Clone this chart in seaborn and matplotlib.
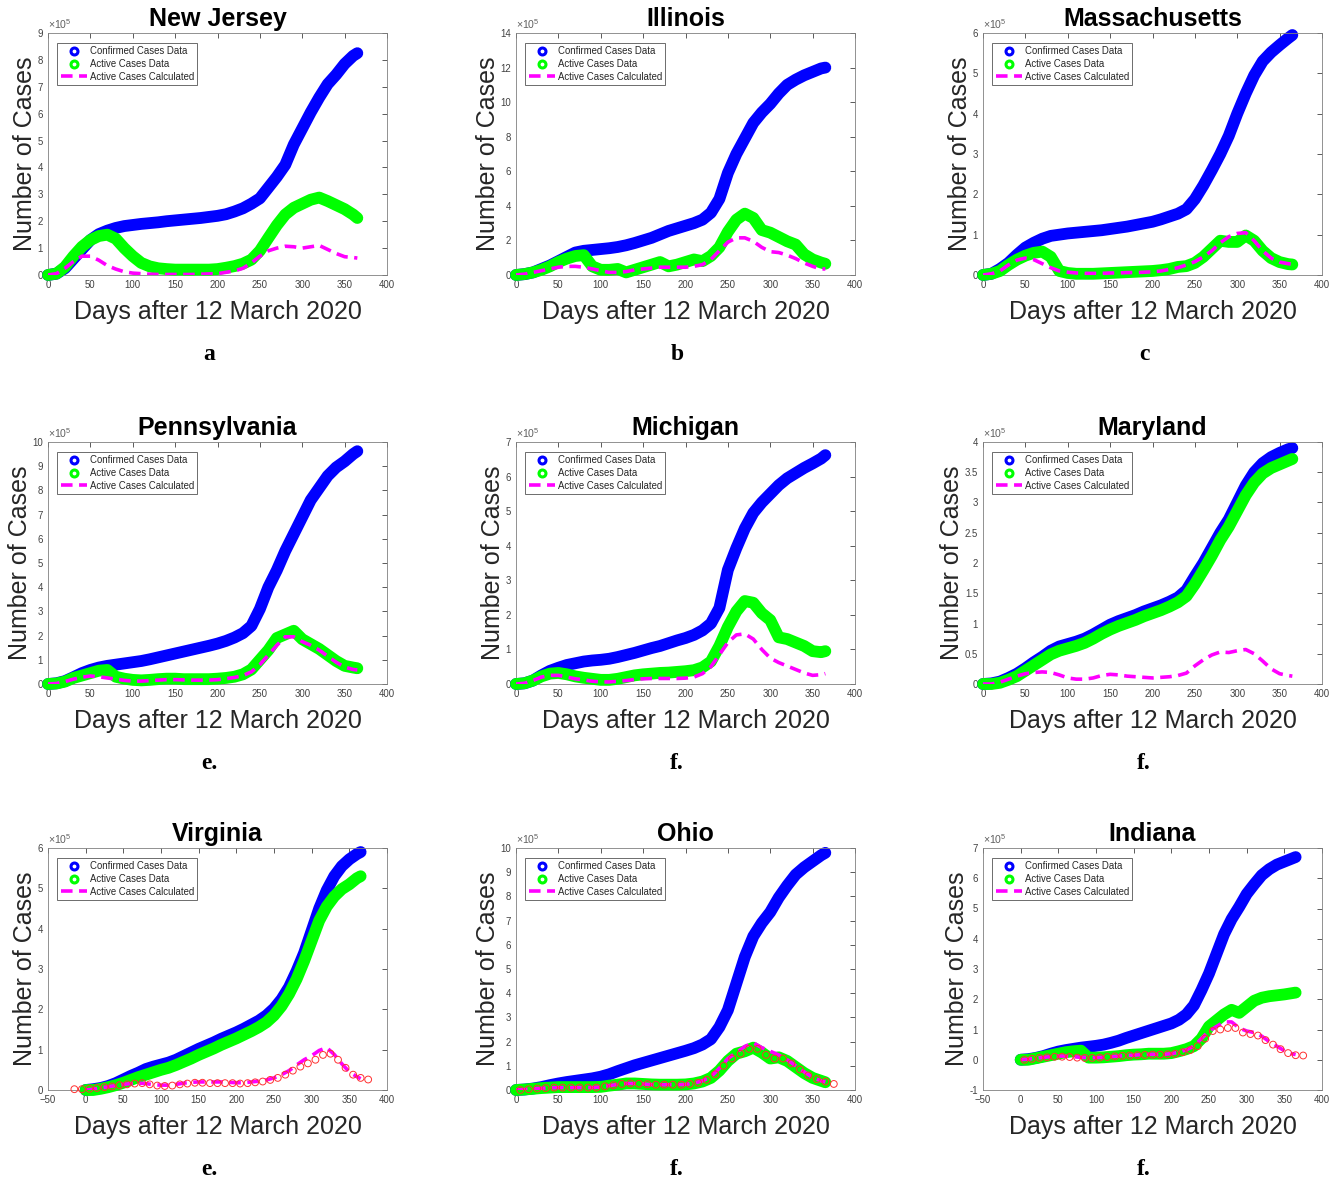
import matplotlib
matplotlib.use("Agg")
import matplotlib.pyplot as plt
from matplotlib.lines import Line2D
from matplotlib.ticker import FuncFormatter
import seaborn as sns

sns.set_theme(style="white")
plt.rcParams["font.family"] = ["Liberation Sans", "DejaVu Sans"]
plt.rcParams["mathtext.fontset"] = "custom"
plt.rcParams["mathtext.rm"] = "Liberation Sans"

# days after 12 March 2020 (values read roughly every 10 days), cases in units of 1e5
DAYS = [0, 10, 20, 30, 40, 50, 60, 70, 80, 90, 100, 110, 120, 130, 140, 150, 160, 170, 180,
        190, 200, 210, 220, 230, 240, 250, 260, 270, 280, 290, 300, 310, 320, 330, 340, 350,
        360, 365]
RED_DAYS_VA = [-15, -5, 5, 15, 25, 35, 45, 55, 65, 75, 85, 95, 105, 115, 125, 135, 145, 155,
               165, 175, 185, 195, 205, 215, 225, 235, 245, 255, 265, 275, 285, 295, 305, 315,
               325, 335, 345, 355, 365, 375]
RED_DAYS = [5, 15, 25, 35, 45, 55, 65, 75, 85, 95, 105, 115, 125, 135, 145, 155, 165, 175,
            185, 195, 205, 215, 225, 235, 245, 255, 265, 275, 285, 295, 305, 315, 325, 335,
            345, 355, 365, 375]

NJ_CONF = [0, 0.05, 0.25, 0.6, 0.95, 1.3, 1.52, 1.65, 1.75, 1.82, 1.86, 1.9, 1.93, 1.96, 2.0, 2.03, 2.06, 2.09, 2.12, 2.16, 2.2, 2.26, 2.36, 2.48, 2.65, 2.85, 3.25, 3.65, 4.1, 4.85, 5.45, 6.05, 6.6, 7.1, 7.45, 7.85, 8.15, 8.25]
NJ_ACT = [0, 0.05, 0.3, 0.7, 1.05, 1.3, 1.45, 1.5, 1.35, 1.0, 0.7, 0.45, 0.32, 0.25, 0.22, 0.2, 0.2, 0.2, 0.2, 0.2, 0.22, 0.27, 0.33, 0.42, 0.57, 0.9, 1.38, 1.85, 2.25, 2.5, 2.65, 2.8, 2.88, 2.75, 2.6, 2.45, 2.25, 2.12]
NJ_CALC = [0, 0.05, 0.25, 0.5, 0.7, 0.7, 0.55, 0.35, 0.22, 0.12, 0.07, 0.05, 0.03, 0.02, 0.02, 0.02, 0.02, 0.02, 0.03, 0.04, 0.05, 0.1, 0.15, 0.25, 0.45, 0.7, 0.9, 1.0, 1.07, 1.05, 1.0, 1.05, 1.1, 0.95, 0.8, 0.68, 0.65, 0.63]

IL_CONF = [0, 0.05, 0.15, 0.35, 0.55, 0.8, 1.05, 1.3, 1.4, 1.45, 1.5, 1.55, 1.62, 1.72, 1.85, 2.0, 2.15, 2.35, 2.55, 2.7, 2.85, 3.0, 3.2, 3.6, 4.4, 5.9, 7.0, 7.9, 8.8, 9.4, 9.9, 10.5, 11.0, 11.3, 11.55, 11.75, 11.95, 12.0]
IL_ACT = [0, 0.05, 0.15, 0.3, 0.5, 0.75, 0.95, 1.1, 1.15, 0.5, 0.3, 0.3, 0.35, 0.15, 0.3, 0.45, 0.6, 0.75, 0.5, 0.6, 0.75, 0.9, 0.8, 1.1, 1.6, 2.5, 3.2, 3.55, 3.3, 2.6, 2.45, 2.2, 1.95, 1.76, 1.2, 0.9, 0.72, 0.65]
IL_CALC = [0, 0.05, 0.15, 0.25, 0.35, 0.45, 0.5, 0.5, 0.45, 0.35, 0.25, 0.15, 0.15, 0.2, 0.3, 0.35, 0.4, 0.45, 0.45, 0.45, 0.45, 0.5, 0.6, 0.9, 1.4, 1.9, 2.15, 2.15, 1.95, 1.6, 1.35, 1.3, 1.15, 0.95, 0.7, 0.5, 0.35, 0.35]

MA_CONF = [0, 0.03, 0.15, 0.3, 0.5, 0.68, 0.8, 0.9, 0.97, 1.0, 1.03, 1.05, 1.07, 1.09, 1.11, 1.14, 1.17, 1.2, 1.24, 1.28, 1.32, 1.38, 1.45, 1.52, 1.63, 1.88, 2.22, 2.6, 3.0, 3.45, 4.0, 4.5, 4.95, 5.3, 5.52, 5.7, 5.87, 5.95]
MA_ACT = [0, 0.03, 0.1, 0.25, 0.38, 0.48, 0.55, 0.58, 0.45, 0.1, 0.05, 0.03, 0.03, 0.03, 0.04, 0.05, 0.06, 0.07, 0.08, 0.09, 0.1, 0.12, 0.15, 0.2, 0.22, 0.3, 0.45, 0.65, 0.85, 0.82, 0.82, 0.98, 0.85, 0.6, 0.42, 0.32, 0.27, 0.26]
MA_CALC = [0, 0.03, 0.1, 0.25, 0.37, 0.42, 0.38, 0.28, 0.18, 0.1, 0.07, 0.05, 0.04, 0.04, 0.04, 0.05, 0.05, 0.06, 0.06, 0.07, 0.08, 0.1, 0.14, 0.18, 0.25, 0.33, 0.45, 0.6, 0.8, 0.95, 1.03, 1.05, 0.85, 0.6, 0.42, 0.32, 0.28, 0.27]

PA_CONF = [0, 0.03, 0.12, 0.28, 0.45, 0.58, 0.68, 0.75, 0.8, 0.85, 0.9, 0.95, 1.02, 1.1, 1.18, 1.26, 1.34, 1.42, 1.5, 1.58, 1.67, 1.78, 1.92, 2.1, 2.4, 3.1, 4.0, 4.7, 5.5, 6.2, 6.9, 7.6, 8.1, 8.6, 8.95, 9.2, 9.5, 9.62]
PA_ACT = [0, 0.02, 0.1, 0.25, 0.35, 0.45, 0.55, 0.58, 0.3, 0.22, 0.17, 0.15, 0.17, 0.2, 0.22, 0.22, 0.2, 0.2, 0.2, 0.2, 0.22, 0.25, 0.3, 0.4, 0.6, 1.0, 1.4, 1.9, 2.05, 2.2, 1.85, 1.65, 1.45, 1.2, 0.95, 0.75, 0.68, 0.65]
PA_CALC = [0, 0.02, 0.1, 0.2, 0.28, 0.33, 0.3, 0.25, 0.2, 0.15, 0.12, 0.12, 0.14, 0.16, 0.18, 0.18, 0.17, 0.16, 0.16, 0.16, 0.18, 0.22, 0.27, 0.35, 0.5, 0.8, 1.2, 1.6, 1.95, 1.95, 1.75, 1.6, 1.4, 1.15, 0.9, 0.7, 0.6, 0.58]

MI_CONF = [0, 0.02, 0.1, 0.25, 0.38, 0.47, 0.55, 0.6, 0.65, 0.68, 0.7, 0.73, 0.78, 0.84, 0.9, 0.97, 1.04, 1.1, 1.18, 1.26, 1.33, 1.42, 1.55, 1.75, 2.2, 3.3, 3.93, 4.5, 4.95, 5.25, 5.5, 5.75, 5.95, 6.1, 6.25, 6.38, 6.52, 6.62]
MI_ACT = [0, 0.02, 0.1, 0.22, 0.3, 0.32, 0.28, 0.22, 0.18, 0.15, 0.12, 0.12, 0.15, 0.2, 0.25, 0.28, 0.3, 0.32, 0.33, 0.35, 0.37, 0.4, 0.48, 0.65, 1.1, 1.65, 2.1, 2.4, 2.35, 2.05, 1.85, 1.35, 1.3, 1.2, 1.1, 0.95, 0.92, 0.95]
MI_CALC = [0, 0.02, 0.1, 0.2, 0.25, 0.25, 0.2, 0.15, 0.12, 0.08, 0.06, 0.06, 0.08, 0.1, 0.13, 0.15, 0.16, 0.16, 0.16, 0.16, 0.17, 0.2, 0.3, 0.5, 0.85, 1.2, 1.42, 1.45, 1.3, 1.0, 0.75, 0.62, 0.52, 0.42, 0.32, 0.25, 0.27, 0.3]

MD_CONF = [0, 0.01, 0.04, 0.1, 0.17, 0.26, 0.36, 0.45, 0.55, 0.62, 0.66, 0.7, 0.75, 0.82, 0.9, 0.98, 1.04, 1.09, 1.14, 1.2, 1.25, 1.3, 1.36, 1.43, 1.55, 1.78, 2.0, 2.25, 2.5, 2.72, 3.0, 3.28, 3.5, 3.65, 3.75, 3.82, 3.88, 3.9]
MD_ACT = [0, 0.0, 0.02, 0.07, 0.13, 0.22, 0.31, 0.4, 0.49, 0.55, 0.59, 0.63, 0.68, 0.75, 0.83, 0.9, 0.96, 1.01, 1.06, 1.12, 1.17, 1.22, 1.28, 1.35, 1.45, 1.65, 1.88, 2.12, 2.38, 2.6, 2.86, 3.12, 3.33, 3.48, 3.57, 3.63, 3.69, 3.72]
MD_CALC = [0, 0.0, 0.03, 0.08, 0.13, 0.17, 0.19, 0.2, 0.19, 0.15, 0.1, 0.08, 0.08, 0.1, 0.14, 0.16, 0.15, 0.13, 0.12, 0.11, 0.1, 0.11, 0.12, 0.14, 0.18, 0.3, 0.4, 0.48, 0.53, 0.52, 0.55, 0.57, 0.5, 0.38, 0.25, 0.17, 0.14, 0.13]

VA_CONF = [0, 0.02, 0.05, 0.1, 0.17, 0.26, 0.35, 0.43, 0.52, 0.58, 0.63, 0.68, 0.75, 0.84, 0.93, 1.02, 1.1, 1.18, 1.27, 1.35, 1.43, 1.52, 1.62, 1.72, 1.85, 2.02, 2.25, 2.55, 2.95, 3.4, 3.95, 4.5, 4.95, 5.3, 5.55, 5.72, 5.85, 5.9]
VA_ACT = [0, 0.0, 0.03, 0.07, 0.12, 0.18, 0.25, 0.32, 0.38, 0.44, 0.5, 0.55, 0.62, 0.7, 0.78, 0.87, 0.95, 1.03, 1.12, 1.2, 1.28, 1.37, 1.46, 1.56, 1.68, 1.85, 2.08, 2.38, 2.75, 3.2, 3.7, 4.2, 4.55, 4.8, 4.98, 5.1, 5.25, 5.3]
VA_CALC = [0, 0.02, 0.05, 0.08, 0.11, 0.14, 0.16, 0.17, 0.16, 0.13, 0.12, 0.12, 0.14, 0.17, 0.19, 0.2, 0.2, 0.2, 0.2, 0.19, 0.18, 0.18, 0.2, 0.22, 0.25, 0.3, 0.38, 0.48, 0.62, 0.75, 0.85, 0.98, 1.05, 0.88, 0.65, 0.45, 0.33, 0.28]
VA_RED = [0.02, 0.02, 0.03, 0.05, 0.07, 0.09, 0.12, 0.14, 0.16, 0.17, 0.14, 0.11, 0.1, 0.11, 0.14, 0.16, 0.18, 0.18, 0.17, 0.17, 0.17, 0.17, 0.16, 0.17, 0.19, 0.21, 0.25, 0.3, 0.38, 0.48, 0.58, 0.66, 0.75, 0.87, 0.9, 0.75, 0.55, 0.38, 0.3, 0.26]

OH_CONF = [0, 0.02, 0.06, 0.12, 0.2, 0.27, 0.33, 0.38, 0.43, 0.48, 0.55, 0.65, 0.78, 0.9, 1.02, 1.12, 1.22, 1.32, 1.42, 1.52, 1.62, 1.73, 1.88, 2.1, 2.6, 3.3, 4.4, 5.5, 6.35, 6.9, 7.35, 7.95, 8.45, 8.9, 9.2, 9.45, 9.7, 9.8]
OH_ACT = [0, 0.02, 0.05, 0.08, 0.1, 0.12, 0.12, 0.12, 0.12, 0.12, 0.13, 0.18, 0.22, 0.27, 0.27, 0.25, 0.23, 0.22, 0.22, 0.22, 0.23, 0.27, 0.35, 0.5, 0.8, 1.2, 1.5, 1.6, 1.75, 1.55, 1.3, 1.35, 1.2, 0.95, 0.7, 0.5, 0.38, 0.32]
OH_CALC = [0, 0.02, 0.05, 0.07, 0.09, 0.1, 0.1, 0.1, 0.1, 0.1, 0.12, 0.18, 0.23, 0.27, 0.27, 0.25, 0.22, 0.22, 0.22, 0.22, 0.23, 0.28, 0.38, 0.55, 0.9, 1.3, 1.55, 1.8, 1.95, 1.75, 1.6, 1.45, 1.25, 1.0, 0.75, 0.52, 0.38, 0.33]
OH_RED = [0.0, 0.03, 0.06, 0.08, 0.1, 0.1, 0.1, 0.1, 0.1, 0.1, 0.15, 0.2, 0.25, 0.27, 0.26, 0.24, 0.22, 0.22, 0.22, 0.22, 0.25, 0.3, 0.42, 0.65, 1.0, 1.3, 1.5, 1.7, 1.7, 1.45, 1.3, 1.3, 1.1, 0.85, 0.6, 0.45, 0.35, 0.25]

IN_CONF = [0, 0.02, 0.06, 0.12, 0.2, 0.27, 0.32, 0.36, 0.4, 0.43, 0.46, 0.5, 0.56, 0.63, 0.72, 0.8, 0.88, 0.96, 1.04, 1.12, 1.2, 1.32, 1.5, 1.8, 2.3, 2.85, 3.5, 4.15, 4.65, 5.05, 5.48, 5.8, 6.1, 6.3, 6.45, 6.55, 6.65, 6.7]
IN_ACT = [0, 0.0, 0.05, 0.1, 0.15, 0.2, 0.25, 0.28, 0.3, 0.07, 0.07, 0.08, 0.1, 0.12, 0.15, 0.17, 0.18, 0.2, 0.2, 0.2, 0.22, 0.28, 0.35, 0.45, 0.7, 1.1, 1.3, 1.5, 1.65, 1.55, 1.75, 1.95, 2.05, 2.1, 2.13, 2.16, 2.2, 2.22]
IN_CALC = [0, 0.02, 0.05, 0.08, 0.1, 0.12, 0.12, 0.1, 0.08, 0.07, 0.07, 0.08, 0.1, 0.12, 0.14, 0.15, 0.17, 0.18, 0.18, 0.18, 0.2, 0.25, 0.33, 0.45, 0.7, 0.95, 1.1, 1.25, 1.25, 1.05, 0.95, 0.9, 0.78, 0.6, 0.45, 0.3, 0.2, 0.17]
IN_RED = [0.0, 0.03, 0.06, 0.08, 0.1, 0.1, 0.09, 0.07, 0.06, 0.06, 0.07, 0.09, 0.11, 0.13, 0.14, 0.15, 0.16, 0.17, 0.17, 0.18, 0.2, 0.25, 0.32, 0.45, 0.7, 0.95, 1.0, 1.05, 1.05, 0.9, 0.85, 0.8, 0.65, 0.5, 0.35, 0.22, 0.15, 0.14]

LEGEND_LABELS = ["Confirmed Cases Data", "Active Cases Data", "Active Cases Calculated"]

# title, letter, confirmed, active, calculated, red x, red y, ylim, y step, x min
PANELS = [
    ("New Jersey", "a", NJ_CONF, NJ_ACT, NJ_CALC, None, None, (0, 9), 1, 0),
    ("Illinois", "b", IL_CONF, IL_ACT, IL_CALC, None, None, (0, 14), 2, 0),
    ("Massachusetts", "c", MA_CONF, MA_ACT, MA_CALC, None, None, (0, 6), 1, 0),
    ("Pennsylvania", "e.", PA_CONF, PA_ACT, PA_CALC, None, None, (0, 10), 1, 0),
    ("Michigan", "f.", MI_CONF, MI_ACT, MI_CALC, None, None, (0, 7), 1, 0),
    ("Maryland", "f.", MD_CONF, MD_ACT, MD_CALC, None, None, (0, 4), 0.5, 0),
    ("Virginia", "e.", VA_CONF, VA_ACT, VA_CALC, RED_DAYS_VA, VA_RED, (0, 6), 1, -50),
    ("Ohio", "f.", OH_CONF, OH_ACT, OH_CALC, RED_DAYS, OH_RED, (0, 10), 1, 0),
    ("Indiana", "f.", IN_CONF, IN_ACT, IN_CALC, RED_DAYS, IN_RED, (-1, 7), 1, -50),
]

BLUE, GREEN, MAGENTA, RED = "#0000ff", "#00ff00", "#ff00ff", "#ff3030"
AXCOL = "#808080"
TXTCOL = "#404040"

fig = plt.figure(figsize=(13.43, 11.84), dpi=100)
W, H = 1343.0, 1184.0
lefts = [48, 516, 983]
tops = [33, 442, 848]

for i, (name, letter, conf, act, calc, rx, ry, ylim, ystep, xmin) in enumerate(PANELS):
    r, c = divmod(i, 3)
    ax = fig.add_axes([lefts[c] / W, 1 - (tops[r] + 242) / H, 339 / W, 242 / H])

    sns.lineplot(x=DAYS, y=conf, ax=ax, color=BLUE, linewidth=8.5, solid_capstyle="round",
                 solid_joinstyle="round", clip_on=False, zorder=2)
    sns.lineplot(x=DAYS, y=act, ax=ax, color=GREEN, linewidth=8.5, solid_capstyle="round",
                 solid_joinstyle="round", clip_on=False, zorder=3)
    sns.lineplot(x=DAYS, y=calc, ax=ax, color=MAGENTA, linewidth=2.6, zorder=4)
    ax.lines[-1].set_dashes((3.2, 1.8))
    if rx is not None:
        sns.scatterplot(x=rx, y=ry, ax=ax, marker="o", s=24, facecolors="none",
                        edgecolor=RED, linewidth=0.7, zorder=5, legend=False, clip_on=False)

    ax.set_xlim(xmin, 400)
    ax.set_ylim(*ylim)
    ax.set_xticks(list(range(xmin, 401, 50)))
    yt = []
    v = ylim[0]
    while v <= ylim[1] + 1e-9:
        yt.append(v)
        v += ystep
    ax.set_yticks(yt)
    ax.yaxis.set_major_formatter(FuncFormatter(lambda v, _: f"{v:g}"))
    ax.tick_params(direction="in", length=3.5, width=0.6, top=True, right=True,
                   labelsize=6.9, colors=TXTCOL, pad=3.5)
    for sp in ax.spines.values():
        sp.set_color(AXCOL)
        sp.set_linewidth(0.6)

    ax.set_title(name, fontsize=18, fontweight="bold", pad=5, color="black")
    ax.set_xlabel("Days after 12 March 2020", fontsize=18, color="#262626")
    ax.set_ylabel("Number of Cases", fontsize=18, color="#262626", labelpad=0.5)
    ax.xaxis.set_label_coords(0.5, -0.105)
    ax.text(0.0, 1.008, r"$\times10^{5}$", transform=ax.transAxes, fontsize=7.6,
            color="#606060", va="bottom", ha="left")
    ax.text(0.475, -0.33, letter, transform=ax.transAxes, fontsize=17, fontweight="bold",
            family="Liberation Serif", ha="center", va="center", color="black")

    handles = [
        Line2D([], [], marker="o", ls="none", mfc="white", mec=BLUE, ms=5, mew=2.2),
        Line2D([], [], marker="o", ls="none", mfc="white", mec=GREEN, ms=5, mew=2.2),
        Line2D([], [], color=MAGENTA, ls=(0, (3.2, 1.8)), lw=2.6),
    ]
    leg = ax.legend(handles, LEGEND_LABELS, loc="upper left", bbox_to_anchor=(0.027, 0.96),
                    fontsize=6.9, frameon=True, fancybox=False, framealpha=1,
                    edgecolor="#555555", handlelength=2.8, handletextpad=0.25,
                    labelspacing=0.3, borderpad=0.35, borderaxespad=0)
    leg.get_frame().set_linewidth(0.6)

fig.savefig("out.png", dpi=100)
